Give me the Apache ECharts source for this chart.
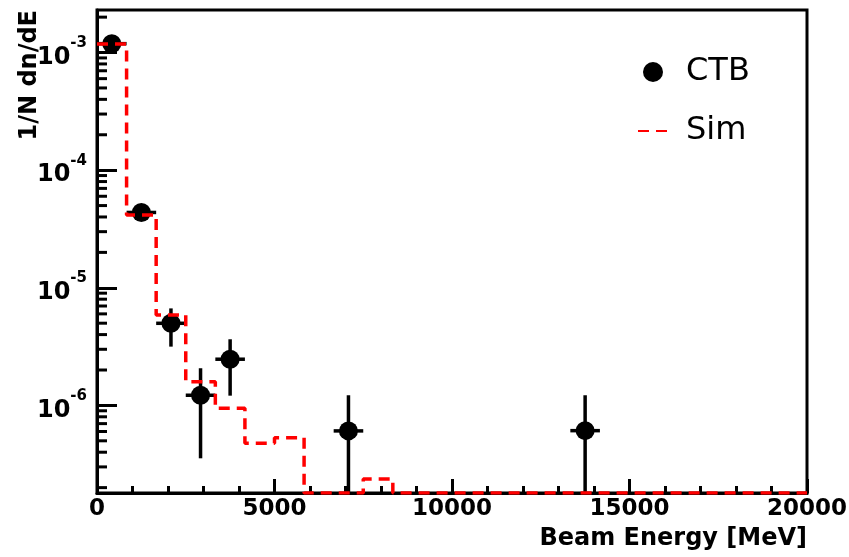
<!DOCTYPE html>
<html><head><meta charset="utf-8">
<script src="https://cdn.jsdelivr.net/npm/echarts@6/dist/echarts.min.js"></script>
<style>html,body{margin:0;padding:0;background:#fff}#c{width:849px;height:557px}</style>
</head><body><div id="c"></div>
<script>
// Binning of the histograms (MeV)
const binWidth = 20000 / 24;
// Simulation histogram contents (one per bin, 24 bins from 0 to 20000 MeV)
const simValues = [1.18e-3, 4.15e-5, 5.86e-6, 1.59e-6, 9.44e-7, 4.76e-7, 5.32e-7, 0, 0, 2.37e-7,
                   0, 0, 0, 0, 0, 0, 0, 0, 0, 0, 0, 0, 0, 0];
// CTB data points
const ctbEnergy = [416.7, 1250, 2083.3, 2916.7, 3750, 7083.3, 13750];
const ctbValue  = [1.19e-3, 4.37e-5, 4.99e-6, 1.22e-6, 2.47e-6, 6.07e-7, 6.1e-7];
const ctbErrLow = [1.14e-3, 4.1e-5, 3.16e-6, 3.55e-7, 1.21e-6, 0, 0];
const ctbErrHigh= [1.24e-3, 4.65e-5, 6.68e-6, 2.07e-6, 3.65e-6, 1.22e-6, 1.22e-6];
// Axis ranges / labels
const xMin = 0, xMax = 20000, xInterval = 5000;
const yMin = 1.8e-7, yMax = 2.3e-3;
const yMinorTicks = [];
for (let n = -7; n <= -3; n++) for (let k = 2; k <= 9; k++) { const v = k * Math.pow(10, n); if (v > yMin && v < yMax) yMinorTicks.push(v); }

const FONT = 'DejaVu Sans';
const clampY = v => Math.max(v, yMin);

const simLine = [];
simValues.forEach((v, i) => { simLine.push([i * binWidth, clampY(v)]); simLine.push([(i + 1) * binWidth, clampY(v)]); });

const chart = echarts.init(document.getElementById('c'), null, {renderer: 'canvas'});
chart.setOption({
  animation: false,
  backgroundColor: '#fff',
  grid: {left: 97, right: 42, top: 10, bottom: 64, show: true, borderColor: '#000', borderWidth: 3,
         backgroundColor: 'transparent', outerBoundsMode: 'none', containLabel: false},
  legend: {
    orient: 'vertical', left: 632, top: 51, itemWidth: 30, itemHeight: 20, itemGap: 27,
    selectedMode: false,
    textStyle: {fontFamily: FONT, fontSize: 32, color: '#000', padding: [0, 0, 0, 13]},
    data: [{name: 'CTB', icon: 'circle', itemStyle: {color: '#000', opacity: 1}},
           {name: 'Sim', itemStyle: {opacity: 0}}]
  },
  xAxis: {
    type: 'value', min: xMin, max: xMax, interval: xInterval,
    axisLine: {lineStyle: {color: '#000', width: 3}},
    axisTick: {inside: true, length: 14, lineStyle: {color: '#000', width: 3}},
    minorTick: {show: true, splitNumber: 5, length: 7, lineStyle: {color: '#000', width: 3}},
    splitLine: {show: false},
    axisLabel: {fontFamily: FONT, fontWeight: 'bold', fontSize: 23, color: '#000', margin: 5,
                formatter: v => String(v)},
    name: 'Beam Energy [MeV]', nameLocation: 'end', nameGap: 0, nameMoveOverlap: false,
    nameTextStyle: {fontFamily: FONT, fontWeight: 'bold', fontSize: 24, color: '#000', align: 'right', verticalAlign: 'top', padding: [34, 0, 0, 0]}
  },
  yAxis: {
    type: 'log', logBase: 10, min: yMin, max: yMax,
    axisLine: {lineStyle: {color: '#000', width: 3}},
    axisTick: {inside: true, length: 20, lineStyle: {color: '#000', width: 3}},
    splitLine: {show: false},
    axisLabel: {
      margin: 10, showMinLabel: false, showMaxLabel: false,
      formatter: v => '{b|10}{s|' + Math.round(Math.log10(v)) + '}',
      rich: {
        b: {fontFamily: FONT, fontWeight: 'bold', fontSize: 24, color: '#000', verticalAlign: 'bottom', lineHeight: 34},
        s: {fontFamily: FONT, fontWeight: 'bold', fontSize: 15, color: '#000', verticalAlign: 'top', lineHeight: 34}
      }
    },
    name: '1/N dn/dE', nameLocation: 'end', nameGap: 0, nameRotate: 90, nameMoveOverlap: false,
    nameTextStyle: {fontFamily: FONT, fontWeight: 'bold', fontSize: 24, color: '#000', align: 'right', verticalAlign: 'bottom', padding: [0, 0, 55, 0]}
  },
  series: [
    {
      name: 'minorY', type: 'custom', silent: true, z: 4,
      data: yMinorTicks.map(v => [xMin, v]),
      renderItem: (params, api) => {
        const p = api.coord([api.value(0), api.value(1)]);
        return {type: 'line', shape: {x1: p[0], y1: p[1], x2: p[0] + 10, y2: p[1]}, style: {stroke: '#000', lineWidth: 3}};
      }
    },
    {
      name: 'CTB err', type: 'custom', silent: true, z: 3, clip: true,
      data: ctbEnergy.map((e, i) => [e, ctbValue[i], clampY(ctbErrLow[i]), ctbErrHigh[i]]),
      encode: {x: 0, y: 1},
      renderItem: (params, api) => {
        const e = api.value(0), v = api.value(1), lo = api.value(2), hi = api.value(3);
        const l = api.coord([e - binWidth / 2, v]), r = api.coord([e + binWidth / 2, v]);
        const a = api.coord([e, lo]), b = api.coord([e, hi]);
        return {type: 'group', children: [
          {type: 'line', shape: {x1: l[0], y1: l[1], x2: r[0], y2: r[1]}, style: {stroke: '#000', lineWidth: 3.5}},
          {type: 'line', shape: {x1: a[0], y1: a[1], x2: b[0], y2: b[1]}, style: {stroke: '#000', lineWidth: 3.5}}
        ]};
      }
    },
    {
      name: 'CTB', type: 'scatter', z: 4, symbol: 'circle', symbolSize: 19,
      itemStyle: {color: '#000', opacity: 1},
      data: ctbEnergy.map((e, i) => [e, ctbValue[i]])
    },
    {
      name: 'Sim', type: 'line', z: 5, showSymbol: false, symbol: 'none', clip: true,
      lineStyle: {color: '#ff0000', width: 3.5, type: [11, 7]},
      itemStyle: {color: '#ff0000'},
      data: simLine
    }
  ]
});
</script></body></html>
